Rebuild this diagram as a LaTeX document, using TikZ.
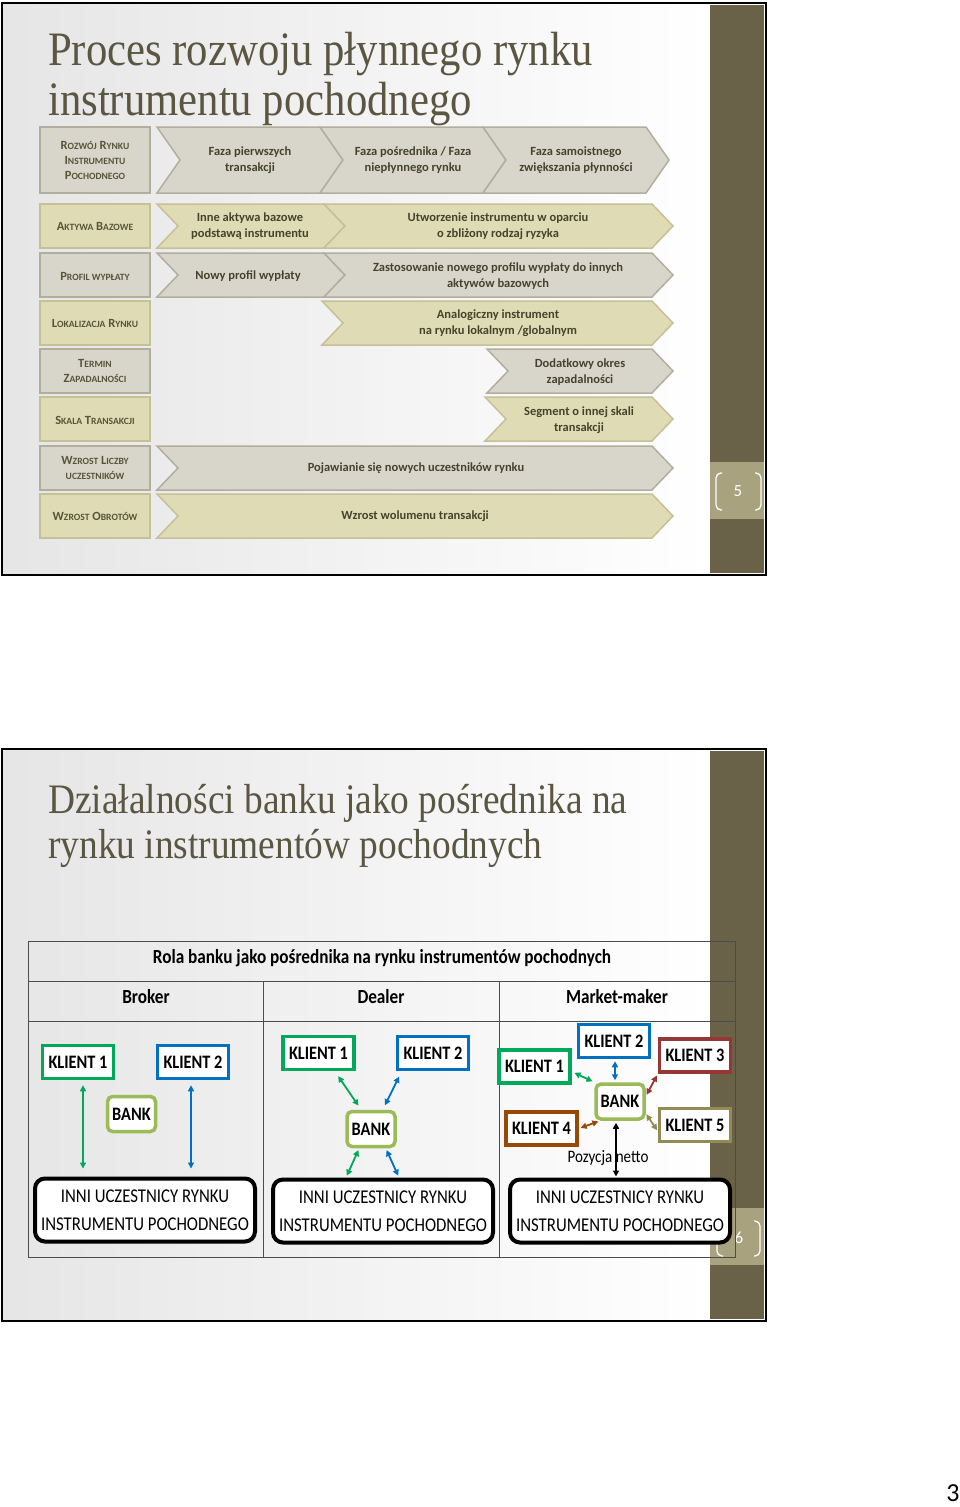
\documentclass[tikz,border=0pt]{standalone}
\usepackage{fontspec}
\setmainfont{Carlito}
\newfontfamily\titlefont{Liberation Serif}
\usepackage{graphicx}
\usetikzlibrary{arrows.meta}
\definecolor{band}{RGB}{106,98,72}
\definecolor{numbox}{RGB}{168,163,126}
\definecolor{yelfill}{RGB}{223,219,181}
\definecolor{yeldraw}{RGB}{198,192,150}
\definecolor{gryfill}{RGB}{216,214,203}
\definecolor{grydraw}{RGB}{178,174,158}
\definecolor{lbltext}{RGB}{88,84,56}
\definecolor{chvtext}{RGB}{70,66,44}
\definecolor{ttltext}{RGB}{90,86,66}
\definecolor{kgreen}{RGB}{0,168,89}
\definecolor{kblue}{RGB}{0,112,192}
\definecolor{kred}{RGB}{149,55,53}
\definecolor{kbrown}{RGB}{152,72,7}
\definecolor{kkhaki}{RGB}{148,138,84}
\definecolor{bankc}{RGB}{155,187,89}
\newcommand\sm[1]{{\fontsize{9.6}{15}\selectfont #1}}
\newcommand\nar[1]{\scalebox{0.86}[1]{#1}}

\begin{document}
\begin{tikzpicture}[x=1pt,y=-1pt,>={Triangle[length=6pt,width=6pt]}]
 \tikzstyle{yel}=[fill=yelfill,draw=yeldraw,line width=1.5]
 \tikzstyle{gry}=[fill=gryfill,draw=grydraw,line width=1.5]
 \tikzstyle{lbl}=[text=lbltext,align=center,font=\fontsize{12.5}{15}\selectfont\bfseries]
 \tikzstyle{chv}=[text=chvtext,align=center,font=\fontsize{12.5}{15.5}\selectfont\bfseries]
 \tikzstyle{ttl}=[anchor=base west,inner sep=0,text=ttltext]
 \tikzstyle{num}=[text=white,font=\fontsize{17}{17}\selectfont]
 \tikzstyle{brk}=[white,line width=1.3,rounded corners=5]
 \tikzstyle{tbl}=[draw=black!70,line width=1]
 \tikzstyle{bg}=[left color=black!10,right color=white]
 \tikzstyle{hd}=[font=\fontsize{20}{21}\selectfont\bfseries]
 \tikzstyle{kl}=[draw,fill=white,line width=3.5,minimum width=71,minimum height=33,inner sep=0,font=\fontsize{19}{19}\selectfont\bfseries]
 \tikzstyle{bank}=[draw=bankc,fill=white,line width=3.5,rounded corners=5,minimum width=48,minimum height=35,inner sep=0,font=\fontsize{19}{19}\selectfont\bfseries]
 \tikzstyle{inni}=[draw,fill=white,line width=4,rounded corners=10,minimum width=220,minimum height=63,align=center,font=\fontsize{19.5}{28}\selectfont]
 \useasboundingbox[fill=white] (0,0) rectangle (960,1507);

 \shade[bg] (2,3) rectangle (710,575);
 \fill[band] (710,5) rectangle (764,573);
 \fill[numbox] (710,462) rectangle (764,519);
 \draw[brk] (722,473) -- (716,473) -- (716,510) -- (722,510);
 \draw[brk] (755,473) -- (761,473) -- (761,510) -- (755,510);
 \node[num] at (738,491) (n5) {5};
 \draw[line width=2] (2,3) rectangle (766,575);

 \node[ttl] at (48,65) (t1a) {\titlefont\fontsize{48}{50}\selectfont\scalebox{0.89}[1]{Proces rozwoju płynnego rynku}};
 \node[ttl] at (48,115) (t1b) {\titlefont\fontsize{48}{50}\selectfont\scalebox{0.89}[1]{instrumentu pochodnego}};

 \draw[gry] (40,127) rectangle (150,193);
 \foreach \yt/\st in {204/yel,253/gry,301/yel,349/gry,397/yel,446/gry,494/yel}
  \draw[\st] (40,\yt) rectangle (150,\yt+44);
 \foreach \xl in {157,320,483}
  \draw[gry] (\xl,127) -- (\xl+163,127) -- (\xl+186,160) -- (\xl+163,193) -- (\xl,193) -- (\xl+23,160) -- cycle;
 \foreach \xl/\xr/\yt/\st in {157/345/204/yel,324/673/204/yel,157/345/253/gry,324/673/253/gry,322/673/301/yel,487/673/349/gry,485/673/397/yel,157/673/446/gry,157/673/494/yel}
  \draw[\st] (\xl,\yt) -- (\xr-21,\yt) -- (\xr,\yt+22) -- (\xr-21,\yt+44) -- (\xl,\yt+44) -- (\xl+21,\yt+22) -- cycle;

 \node[lbl] at (95,160) (rozwoj) {R\sm{OZWÓJ} R\sm{YNKU}\\ I\sm{NSTRUMENTU}\\ P\sm{OCHODNEGO}};
 \node[lbl] at (95,226) (aktywa) {A\sm{KTYWA} B\sm{AZOWE}};
 \node[lbl] at (95,276) (profil) {P\sm{ROFIL WYPŁATY}};
 \node[lbl] at (95,323) (lokal) {L\sm{OKALIZACJA} R\sm{YNKU}};
 \node[lbl] at (95,371) (termin) {T\sm{ERMIN}\\ Z\sm{APADALNOŚCI}};
 \node[lbl] at (95,420) (skala) {S\sm{KALA} T\sm{RANSAKCJI}};
 \node[lbl] at (95,468) (liczba) {W\sm{ZROST} L\sm{ICZBY}\\ \sm{UCZESTNIKÓW}};
 \node[lbl] at (95,516) (obroty) {W\sm{ZROST} O\sm{BROTÓW}};

 \node[chv] at (250,160) (faza1) {Faza pierwszych\\ transakcji};
 \node[chv] at (413,160) (faza2) {Faza pośrednika / Faza\\ niepłynnego rynku};
 \node[chv] at (576,160) (faza3) {Faza samoistnego\\ zwiększania płynności};
 \node[chv] at (250,226) (inne) {Inne aktywa bazowe\\ podstawą instrumentu};
 \node[chv] at (498,226) (utw) {Utworzenie instrumentu w oparciu\\ o zbliżony rodzaj ryzyka};
 \node[chv] at (248,276) (nowy) {Nowy profil wypłaty};
 \node[chv] at (498,276) (zast) {Zastosowanie nowego profilu wypłaty do innych\\ aktywów bazowych};
 \node[chv] at (498,323) (analog) {Analogiczny instrument\\ na rynku lokalnym /globalnym};
 \node[chv] at (580,372) (dodat) {Dodatkowy okres\\ zapadalności};
 \node[chv] at (579,420) (segm) {Segment o innej skali\\ transakcji};
 \node[chv] at (416,468) (pojaw) {Pojawianie się nowych uczestników rynku};
 \node[chv] at (415,516) (wolum) {Wzrost wolumenu transakcji};

 \shade[bg] (2,749) rectangle (710,1321);
 \fill[band] (710,751) rectangle (764,1319);
 \fill[numbox] (710,1208) rectangle (764,1265);
 \draw[brk] (723,1221) -- (717,1221) -- (717,1256) -- (723,1256);
 \draw[brk] (754,1221) -- (760,1221) -- (760,1256) -- (754,1256);
 \node[num] at (739,1238) (n6) {6};
 \draw[line width=2] (2,749) rectangle (766,1321);

 \node[ttl] at (48,813) (t2a) {\titlefont\fontsize{42}{46}\selectfont\scalebox{0.89}[1]{Działalności banku jako pośrednika na}};
 \node[ttl] at (48,858) (t2b) {\titlefont\fontsize{42}{46}\selectfont\scalebox{0.89}[1]{rynku instrumentów pochodnych}};

 \draw[tbl] (28,941) rectangle (735,1257);
 \draw[tbl] (28,981) -- (735,981);
 \draw[tbl] (28,1021) -- (735,1021);
 \draw[tbl] (263,981) -- (263,1257);
 \draw[tbl] (499,981) -- (499,1257);
 \node[hd] at (382,958) (rola) {\nar{Rola banku jako pośrednika na rynku instrumentów pochodnych}};
 \node[hd] at (146,997) (broker) {\nar{Broker}};
 \node[hd] at (381,997) (dealer) {\nar{Dealer}};
 \node[hd] at (617,997) (mmaker) {\nar{Market-maker}};

 \node[kl,draw=kgreen] at (78,1062) (k1b) {\nar{KLIENT 1}};
 \node[kl,draw=kblue] at (193,1062) (k2b) {\nar{KLIENT 2}};
 \node[bank] at (131.5,1114) (bankb) {\nar{BANK}};
 \node[inni] at (145,1210) (inb) {\nar{INNI UCZESTNICY RYNKU}\\ \nar{INSTRUMENTU POCHODNEGO}};
 \draw[<->,kgreen,line width=1.2,shorten <=5,shorten >=8] ([xshift=5]k1b.south) -- ([xshift=5]k1b.south |- inb.north);
 \draw[<->,kblue,line width=1.2,shorten <=5,shorten >=8] ([xshift=-2]k2b.south) -- ([xshift=-2]k2b.south |- inb.north);

 \node[kl,draw=kgreen] at (318.5,1053) (k1d) {\nar{KLIENT 1}};
 \node[kl,draw=kblue] at (433,1053) (k2d) {\nar{KLIENT 2}};
 \node[bank] at (371,1129) (bankd) {\nar{BANK}};
 \node[inni] at (383,1211) (ind) {\nar{INNI UCZESTNICY RYNKU}\\ \nar{INSTRUMENTU POCHODNEGO}};
 \draw[<->,kgreen,line width=1.8,shorten <=6,shorten >=5] ([xshift=-21]k1d.south east) -- ([xshift=16]bankd.north west);
 \draw[<->,kblue,line width=1.8,shorten <=6,shorten >=5] ([xshift=6]k2d.south west) -- ([xshift=-14]bankd.north east);
 \draw[<->,kgreen,line width=1.8,shorten <=2,shorten >=2] ([xshift=14]bankd.south west) -- ([xshift=75]ind.north west);
 \draw[<->,kblue,line width=1.8,shorten <=2,shorten >=2] ([xshift=-11]bankd.south east) -- ([xshift=16]ind.north);

 \node[kl,draw=kgreen] at (534.5,1066.5) (k1m) {\nar{KLIENT 1}};
 \node[kl,draw=kblue] at (614,1041) (k2m) {\nar{KLIENT 2}};
 \node[kl,draw=kred] at (695,1055.5) (k3m) {\nar{KLIENT 3}};
 \node[bank] at (620,1101.5) (bankm) {\nar{BANK}};
 \node[kl,draw=kbrown] at (541.5,1128.5) (k4m) {\nar{KLIENT 4}};
 \node[kl,draw=kkhaki] at (695,1125) (k5m) {\nar{KLIENT 5}};
 \node[inni] at (620,1211) (inm) {\nar{INNI UCZESTNICY RYNKU}\\ \nar{INSTRUMENTU POCHODNEGO}};
 \node[font=\fontsize{17.5}{18}\selectfont] at (608,1158) (poz) {\nar{Pozycja netto}};
 \draw[<->,kgreen,line width=1.8,shorten <=3,shorten >=2] ([yshift=-5]k1m.east) -- (bankm.north west);
 \draw[<->,kblue,line width=1.8,shorten <=2,shorten >=2] ([xshift=1]k2m.south) -- ([xshift=1]k2m.south |- bankm.north);
 \draw[<->,kred,line width=1.8,shorten <=2,shorten >=2] (k3m.south west) -- ([yshift=5]bankm.east);
 \draw[<->,kbrown,line width=1.8,shorten <=2,shorten >=2] (k4m.east) -- ([xshift=6]bankm.south west);
 \draw[<->,kkhaki,line width=1.8,shorten <=1,shorten >=1] ([yshift=-12]bankm.east) -- ([yshift=-6]k5m.west);
 \draw[<->,black,line width=1.5,shorten <=2,shorten >=1] ([xshift=-4]bankm.south) -- ([xshift=-4]bankm.south |- inm.north);

 \node[font=\fontsize{26}{28}\selectfont] at (953,1493) (page) {3};
\end{tikzpicture}
\end{document}
